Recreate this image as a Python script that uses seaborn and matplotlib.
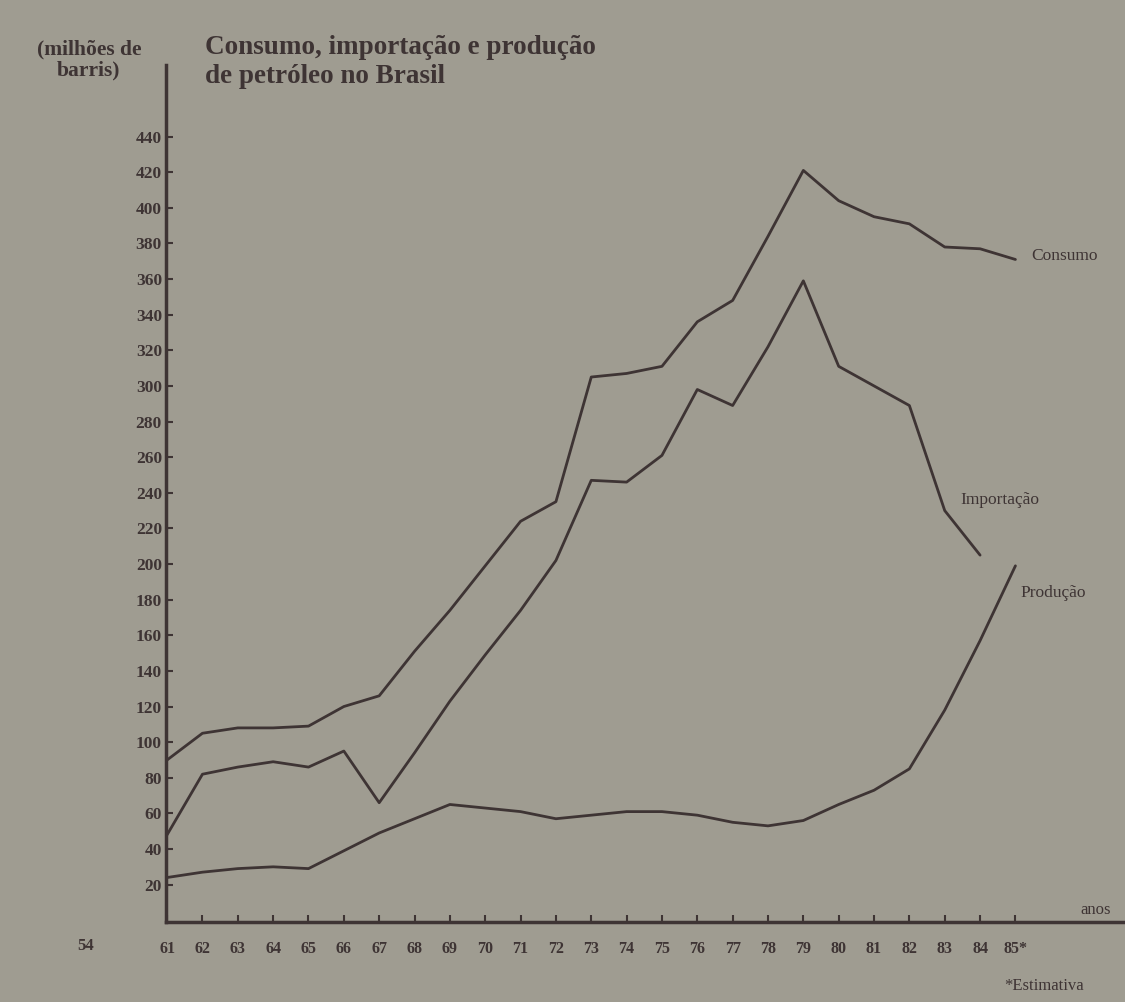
import matplotlib
matplotlib.use("Agg")
import matplotlib.pyplot as plt
import seaborn as sns
import pandas as pd

anos = list(range(61, 86))
consumo = [90, 105, 108, 108, 109, 120, 126, 151, 174, 199, 224, 235, 305, 307, 311,
           336, 348, 384, 421, 404, 395, 391, 378, 377, 371]
importacao = [48, 82, 86, 89, 86, 95, 66, 94, 123, 149, 174, 202, 247, 246, 261,
              298, 289, 322, 359, 311, 300, 289, 230, 205]
producao = [24, 27, 29, 30, 29, 39, 49, 57, 65, 63, 61, 57, 59, 61, 61,
            59, 55, 53, 56, 65, 73, 85, 118, 157, 199]
y_ticks = list(range(20, 460, 20))
x_labels = [str(a) for a in anos[:-1]] + ["85*"]

df = pd.concat([
    pd.DataFrame({"ano": anos, "valor": consumo, "serie": "Consumo"}),
    pd.DataFrame({"ano": anos[:len(importacao)], "valor": importacao, "serie": "Importação"}),
    pd.DataFrame({"ano": anos, "valor": producao, "serie": "Produção"}),
])

bg = "#9f9c91"
ink = "#3e3434"
sns.set_style("ticks", {"axes.facecolor": bg, "figure.facecolor": bg})
plt.rcParams["font.family"] = ["Liberation Serif", "DejaVu Serif"]

fig = plt.figure(figsize=(11.25, 10.02), dpi=100)
ax = fig.add_axes([0.1476, 0.0798, 0.8524, 0.855])

sns.lineplot(data=df, x="ano", y="valor", units="serie", estimator=None,
             color=ink, linewidth=2.0, ax=ax, legend=False)

ax.set_xlim(60.97, 88.1)
ax.set_ylim(-1, 480)
ax.set_xticks(anos)
ax.set_xticklabels(x_labels, fontsize=11.5, color=ink, fontweight="bold")
ax.set_yticks(y_ticks)
ax.set_yticklabels([str(v) for v in y_ticks], fontsize=12.5, color=ink, fontweight="bold")
ax.tick_params(direction="in", length=5, width=1.5, colors=ink)
ax.tick_params(axis="y", pad=3)
ax.tick_params(axis="x", pad=14)
ax.set_xlabel("")
ax.set_ylabel("")
for s in ["top", "right"]:
    ax.spines[s].set_visible(False)
for s in ["left", "bottom"]:
    ax.spines[s].set_linewidth(2.5)
    ax.spines[s].set_color(ink)

# rótulos das séries
ax.text(85.45, 373, "Consumo", fontsize=12.5, color=ink, va="center")
ax.text(83.45, 236, "Importação", fontsize=12.5, color=ink, va="center")
ax.text(85.15, 184, "Produção", fontsize=12.5, color=ink, va="center")

fig.text(0.079, 0.94, "(milhões de\nbarris)", fontsize=15.5, color=ink,
         fontweight="bold", ha="center", va="center", linespacing=1.1)
fig.text(0.182, 0.938, "Consumo, importação e produção\nde petróleo no Brasil",
         fontsize=19.5, color=ink, fontweight="bold", ha="left", va="center",
         linespacing=1.2)
fig.text(0.96, 0.088, "anos", fontsize=12, color=ink, ha="left")
fig.text(0.076, 0.052, "54", fontsize=12, color=ink, ha="center", fontweight="bold")
fig.text(0.893, 0.012, "*Estimativa", fontsize=12, color=ink, ha="left")

fig.savefig("out.png", dpi=100, facecolor=bg)
